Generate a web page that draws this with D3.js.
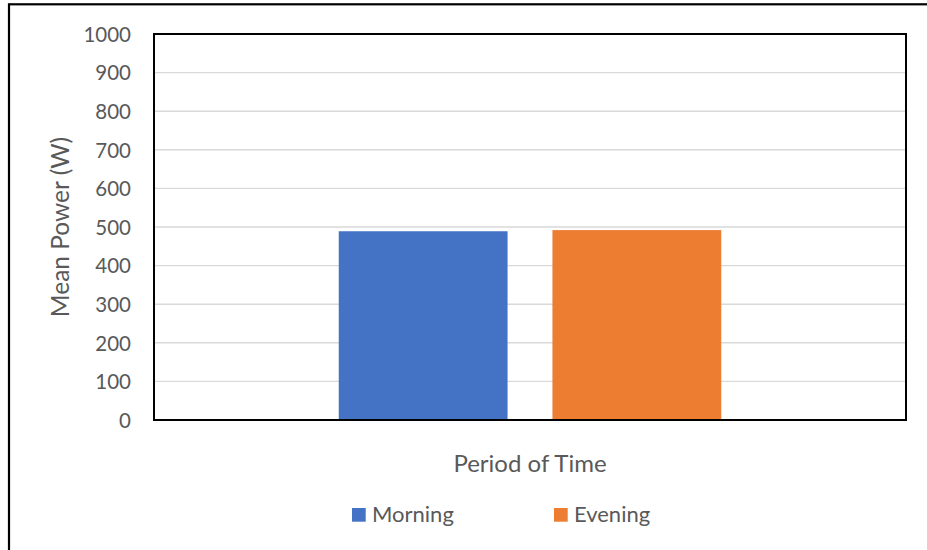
<!DOCTYPE html>
<html><head><meta charset="utf-8">
<script src="https://cdn.jsdelivr.net/npm/d3@7"></script>
<style>html,body{margin:0;padding:0;background:#fff;}svg{display:block;}</style>
</head><body>
<svg id="c" width="927" height="550"></svg>
<script>
const categories = [""];
const seriesNames = ["Morning", "Evening"];
const seriesValues = [489, 492];
const seriesColors = ["#4472C4", "#ED7D31"];
const yTicks = [0, 100, 200, 300, 400, 500, 600, 700, 800, 900, 1000];
const xTitle = "Period of Time";
const yTitle = "Mean Power (W)";

const svg = d3.select("#c");
const font = "Lato, sans-serif";
const textColor = "#595959";
const m = {left: 154, top: 34, right: 906, bottom: 420};

svg.append("rect").attr("x", 9).attr("y", 4.3).attr("width", 1000).attr("height", 1000)
  .attr("fill", "#fff").attr("stroke", "#000").attr("stroke-width", 2.2);

const y = d3.scaleLinear().domain([0, 1000]).range([m.bottom, m.top]);
const x0 = d3.scaleBand().domain(categories).range([m.left, m.right]).paddingInner(0).paddingOuter(0.483);
const x1 = d3.scaleBand().domain(seriesNames).range([0, x0.bandwidth()]).paddingInner(0.21).paddingOuter(0);

// gridlines
svg.append("g").selectAll("line").data(yTicks.filter(t => t > 0 && t < 1000)).join("line")
  .attr("x1", m.left).attr("x2", m.right)
  .attr("y1", d => y(d)).attr("y2", d => y(d))
  .attr("stroke", "#d9d9d9").attr("stroke-width", 1.4);

// bars
svg.append("g").selectAll("rect").data(seriesNames).join("rect")
  .attr("x", (d) => x0(categories[0]) + x1(d))
  .attr("width", x1.bandwidth())
  .attr("y", (d, i) => y(seriesValues[i]))
  .attr("height", (d, i) => y(0) - y(seriesValues[i]))
  .attr("fill", (d, i) => seriesColors[i]);

// plot border
svg.append("rect").attr("x", m.left).attr("y", m.top).attr("width", m.right - m.left).attr("height", m.bottom - m.top)
  .attr("fill", "none").attr("stroke", "#000").attr("stroke-width", 2);

// y axis
const yAxis = d3.axisLeft(y).tickValues(yTicks).tickSize(0).tickPadding(0).tickFormat(d3.format("d"));
const yg = svg.append("g").attr("transform", `translate(131,0)`).call(yAxis);
yg.select(".domain").remove();
yg.selectAll("text").attr("font-family", font).attr("font-size", 20.5).attr("fill", textColor).attr("dy", "0.36em");

// x axis (category label empty)
const xAxis = d3.axisBottom(x0).tickSize(0);
const xg = svg.append("g").attr("transform", `translate(0,${m.bottom})`).call(xAxis);
xg.select(".domain").remove();

// titles
svg.append("text").attr("x", (m.left + m.right) / 2).attr("y", 472).attr("text-anchor", "middle")
  .attr("font-family", font).attr("font-size", 24).attr("fill", textColor).text(xTitle);
svg.append("text").attr("transform", `translate(69,${(m.top + m.bottom) / 2}) rotate(-90)`).attr("text-anchor", "middle")
  .attr("font-family", font).attr("font-size", 24.5).attr("fill", textColor).text(yTitle);

// legend
const legendX = [352, 554];
const lg = svg.append("g").selectAll("g").data(seriesNames).join("g")
  .attr("transform", (d, i) => `translate(${legendX[i]},508)`);
lg.append("rect").attr("width", 13.7).attr("height", 13.7).attr("fill", (d, i) => seriesColors[i]);
lg.append("text").attr("x", 20).attr("y", 13.7).attr("font-family", font).attr("font-size", 22)
  .attr("fill", textColor).text(d => d);
</script>
</body></html>
